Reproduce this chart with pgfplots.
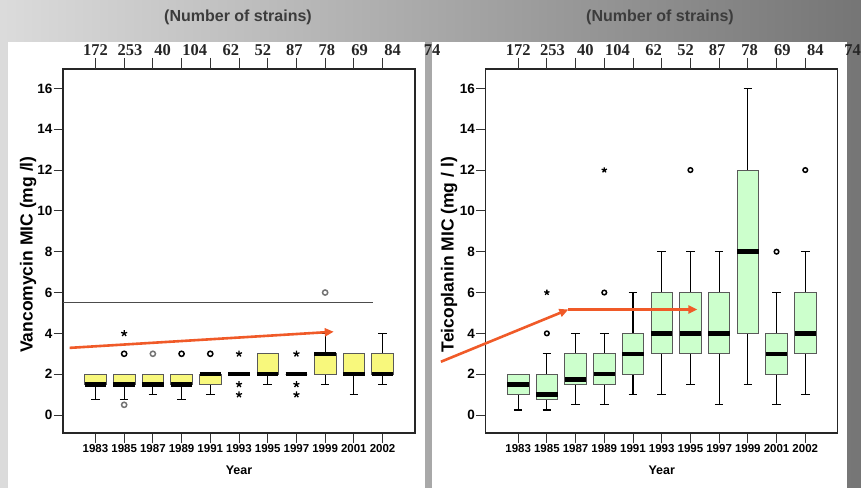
\documentclass[border=0pt]{standalone}
\usepackage{fontspec}
\setmainfont{Liberation Sans}
\newfontfamily\timesfont{Liberation Serif}
\usepackage{pgfplots}
\pgfplotsset{compat=1.18}
\usepgfplotslibrary{statistics}
\usetikzlibrary{arrows.meta}

\definecolor{vanc}{HTML}{F8F87C}
\definecolor{teic}{HTML}{CCFFCC}
\definecolor{trend}{HTML}{F05A28}
\definecolor{titlegray}{HTML}{3C3C3C}

% one box from prepared values: position, lower whisker, Q1, median, Q3, upper whisker
\newcommand\micbox[6]{\addplot[boxplot prepared={draw position=#1,
  lower whisker=#2, lower quartile=#3, median=#4,
  upper quartile=#5, upper whisker=#6}] coordinates {};}

\newcommand\strainfont{\fontsize{16.5bp}{18bp}\selectfont\timesfont\bfseries}

\pgfplotsset{
  panel/.style={
    scale only axis, width=352bp, height=364bp,
    xmin=-1.13, xmax=11.13, ymin=-0.88, ymax=16.95,
  },
  mic/.style={
    panel, clip=false,
    xtick={0,...,10},
    xticklabels={1983,1985,1987,1989,1991,1993,1995,1997,1999,2001,2002},
    ytick={0,2,...,16},
    xtick pos=left, ytick pos=left,
    tick align=outside, major tick length=9.5bp,
    axis line style={line width=1.1bp, black!85},
    tick style={line width=0.8bp, black!80},
    /pgf/number format/assume math mode=true,
    xticklabel style={font=\fontsize{11.5bp}{13bp}\selectfont\bfseries, inner sep=2bp},
    yticklabel style={font=\fontsize{13.5bp}{15bp}\selectfont\bfseries, inner sep=1bp},
    xlabel={Year},
    xlabel style={font=\fontsize{12.5bp}{14bp}\selectfont\bfseries,
      at={(axis description cs:0.5,-0.1036)}, anchor=center},
    ylabel style={font=\fontsize{17.5bp}{20bp}\selectfont\bfseries, anchor=center},
    boxplot/draw direction=y,
    boxplot/box extend=0.75,
    boxplot/whisker extend=0.3,
    boxplot/every whisker/.style={black, line width=1.2bp},
    boxplot/every median/.style={black, line width=4.5bp},
  },
  strains/.style={
    panel, clip=false,
    axis line style={draw=none},
    ytick=\empty,
    xtick={0,...,10}, xticklabels={},
    xtick pos=right, tick align=outside, major tick length=11bp,
    tick style={line width=0.8bp, black!80},
    extra x ticks={0,1.2,2.34,3.46,4.72,5.83,6.93,8.06,9.2,10.35},
    extra x tick labels={172,253,40,104,62,52,87,78,69,84},
    extra x tick style={tick style={draw=none}},
    xticklabel style={font=\strainfont, text=black!85, inner sep=2bp},
  },
  circ/.style={only marks, mark=o, mark size=2.6bp, #1, mark options={line width=1.5bp}},
  astk/.style={only marks, mark=star, mark size=3.2bp, black, mark options={line width=1.3bp}},
  trendline/.style={trend, line width=2.6bp, -{Triangle[length=9bp,width=8bp]}},
}

\begin{document}
\begin{tikzpicture}
\path[use as bounding box] (0,0) rectangle (861bp,488bp);
\clip (0,0) rectangle (861bp,488bp);
\shade[left color=black!14, middle color=black!25, right color=black!54]
  (0,0) rectangle (861bp,488bp);
\fill[white] (8bp,0) rectangle (425bp,446bp);
\fill[white] (432bp,0) rectangle (847bp,446bp);

\node[font=\fontsize{16bp}{18bp}\selectfont\bfseries, text=titlegray] at (238bp,471bp) {(Number of strains)};
\node[font=\fontsize{16bp}{18bp}\selectfont\bfseries, text=titlegray] at (660bp,471bp) {(Number of strains)};

% ---------- Vancomycin ----------
\begin{axis}[mic, at={(63bp,55bp)},
  ylabel={Vancomycin MIC (mg /l)},
  ylabel style={at={(axis description cs:-0.099,0.49)}},
  boxplot/every box/.style={draw=black!65, line width=0.8bp, fill=vanc}]
\addplot[black!70, line width=0.8bp] coordinates {(-1.13,5.54) (9.65,5.54)};
\micbox{0}{0.75}{1.5}{1.5}{2}{2}
\micbox{1}{0.75}{1.5}{1.5}{2}{2}
\micbox{2}{1}{1.5}{1.5}{2}{2}
\micbox{3}{0.75}{1.5}{1.5}{2}{2}
\micbox{4}{1}{1.5}{2}{2}{2}
\micbox{5}{2}{2}{2}{2}{2}
\micbox{6}{1.5}{2}{2}{3}{3}
\micbox{7}{2}{2}{2}{2}{2}
\micbox{8}{1.5}{2}{3}{3}{4}
\micbox{9}{1}{2}{2}{3}{3}
\micbox{10}{1.5}{2}{2}{3}{4}
\addplot[circ=black] coordinates {(1,3) (3,3) (4,3)};
\addplot[circ=black!55] coordinates {(2,3) (8,6) (1,0.5)};
\addplot[astk] coordinates {(1,4) (5,3) (5,1.5) (5,1) (7,3) (7,1.5) (7,1)};
\addplot[trendline] coordinates {(-0.9,3.29) (8.3,4.08)};
\end{axis}
\begin{axis}[strains, at={(63bp,55bp)}]
\node[anchor=south, font=\strainfont, text=black!85, inner sep=2bp, yshift=11bp]
  at (axis cs:11.73,16.95) {74};
\end{axis}

% ---------- Teicoplanin ----------
\begin{axis}[mic, at={(485.7bp,55bp)},
  ylabel={Teicoplanin MIC (mg / l)},
  ylabel style={at={(axis description cs:-0.104,0.49)}},
  boxplot/every box/.style={draw=black!65, line width=0.8bp, fill=teic}]
\micbox{0}{0.25}{1}{1.5}{2}{2}
\micbox{1}{0.25}{0.75}{1}{2}{3}
\micbox{2}{0.5}{1.5}{1.75}{3}{4}
\micbox{3}{0.5}{1.5}{2}{3}{4}
\micbox{4}{1}{2}{3}{4}{6}
\micbox{5}{1}{3}{4}{6}{8}
\micbox{6}{1.5}{3}{4}{6}{8}
\micbox{7}{0.5}{3}{4}{6}{8}
\micbox{8}{1.5}{4}{8}{12}{16}
\micbox{9}{0.5}{2}{3}{4}{6}
\micbox{10}{1}{3}{4}{6}{8}
\addplot[circ=black, mark size=2.3bp] coordinates {(1,4) (3,6) (6,12) (9,8) (10,12)};
\addplot[astk, mark size=2.8bp] coordinates {(1,6) (3,12)};
\addplot[trendline] coordinates {(-2.69,2.61) (1.75,5.17)};
\addplot[trendline] coordinates {(1.75,5.17) (6.24,5.17)};
\end{axis}
\begin{axis}[strains, at={(485.7bp,55bp)}]
\node[anchor=south, font=\strainfont, text=black!85, inner sep=2bp, yshift=11bp]
  at (axis cs:11.65,16.95) {74};
\end{axis}
\end{tikzpicture}
\end{document}
